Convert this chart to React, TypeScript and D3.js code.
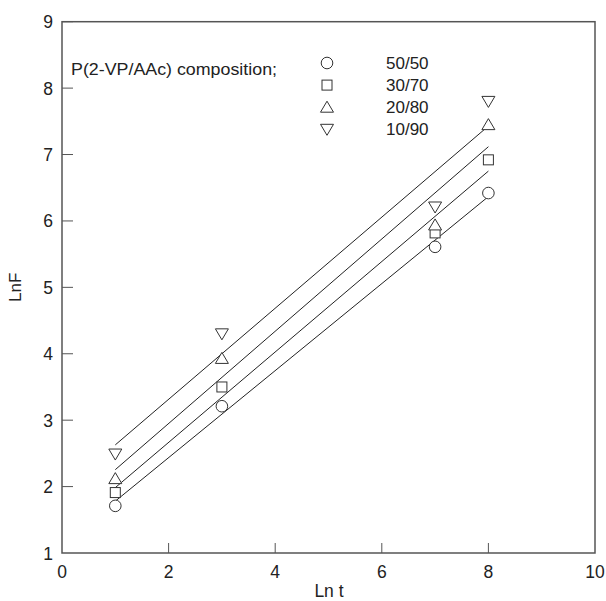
import React from "react";
import * as d3 from "d3";

const lnT = [1, 3, 7, 8];
const s5050 = [1.71, 3.21, 5.61, 6.42];
const s3070 = [1.91, 3.5, 5.82, 6.92];
const s2080 = [2.12, 3.93, 5.94, 7.45];
const s1090 = [2.49, 4.3, 6.21, 7.8];
const seriesNames = ["50/50", "30/70", "20/80", "10/90"];
const seriesShapes = ["circle", "square", "up", "down"];
const xTicks = [0, 2, 4, 6, 8, 10];
const yTicks = [1, 2, 3, 4, 5, 6, 7, 8, 9];

const W = 606, H = 601;
const x = d3.scaleLinear().domain([0, 10]).range([62, 595]);
const y = d3.scaleLinear().domain([1, 9]).range([553, 21.7]);

function fit(xs: number[], ys: number[]) {
  const mx = d3.mean(xs)!, my = d3.mean(ys)!;
  let sxy = 0, sxx = 0;
  xs.forEach((v, i) => { sxy += (v - mx) * (ys[i] - my); sxx += (v - mx) ** 2; });
  const b = sxy / sxx;
  return { a: my - b * mx, b };
}

function Marker({ shape, cx, cy }: { shape: string; cx: number; cy: number }) {
  const st = { fill: "white", stroke: "#333", strokeWidth: 1 };
  if (shape === "circle") return <circle cx={cx} cy={cy} r={5.8} {...st} />;
  if (shape === "square") return <rect x={cx - 5} y={cy - 5} width={10} height={10} {...st} />;
  if (shape === "up") return <path d={`M${cx},${cy - 6} L${cx + 6.5},${cy + 5} L${cx - 6.5},${cy + 5} Z`} {...st} />;
  return <path d={`M${cx},${cy + 6} L${cx + 6.5},${cy - 5} L${cx - 6.5},${cy - 5} Z`} {...st} />;
}

export default function App() {
  const series = [s5050, s3070, s2080, s1090];
  const line = d3.line<number[]>().x(d => x(d[0])).y(d => y(d[1]));
  const font = "Liberation Sans, Arial, sans-serif";
  return (
    <svg width={W} height={H} style={{ position: "absolute", left: 0, top: 0, background: "white" }} fontFamily={font}>
      <rect x={x(0)} y={y(9)} width={x(10) - x(0)} height={y(1) - y(9)} fill="none" stroke="#555" strokeWidth={1.5} />
      {xTicks.map(t => (
        <g key={"x" + t}>
          {t > 0 && t < 10 && <line x1={x(t)} x2={x(t)} y1={y(1)} y2={y(1) - 10} stroke="#555" strokeWidth={1} />}
          <text x={x(t)} y={578} textAnchor="middle" fontSize={17.5} fill="#222">{t}</text>
        </g>
      ))}
      {yTicks.map(t => (
        <g key={"y" + t}>
          {t > 1 && <line x1={x(0)} x2={x(0) + 11} y1={y(t)} y2={y(t)} stroke="#555" strokeWidth={1} />}
          <text x={53} y={y(t) + 6.5} textAnchor="end" fontSize={17.5} fill="#222">{t}</text>
        </g>
      ))}
      <text x={329} y={597} textAnchor="middle" fontSize={17.5} fill="#222">Ln t</text>
      <text transform={`translate(21,${(y(1) + y(9)) / 2}) rotate(-90)`} textAnchor="middle" fontSize={17} fill="#222">LnF</text>
      {series.map((s, i) => {
        const { a, b } = fit(lnT, s);
        return <path key={"l" + i} d={line([[1, a + b], [8, a + 8 * b]])!} fill="none" stroke="#222" strokeWidth={1} />;
      })}
      {series.map((s, i) => s.map((v, j) => <Marker key={i + "-" + j} shape={seriesShapes[i]} cx={x(lnT[j])} cy={y(v)} />))}
      <text x={71} y={75} fontSize={16.5} fill="#222" textLength={206} lengthAdjust="spacingAndGlyphs">P(2-VP/AAc) composition;</text>
      {seriesNames.map((n, i) => (
        <g key={n}>
          <Marker shape={seriesShapes[i]} cx={327} cy={63 + i * 22.1} />
          <text x={386} y={63 + i * 22.1 + 6} fontSize={17} fill="#222">{n}</text>
        </g>
      ))}
    </svg>
  );
}
